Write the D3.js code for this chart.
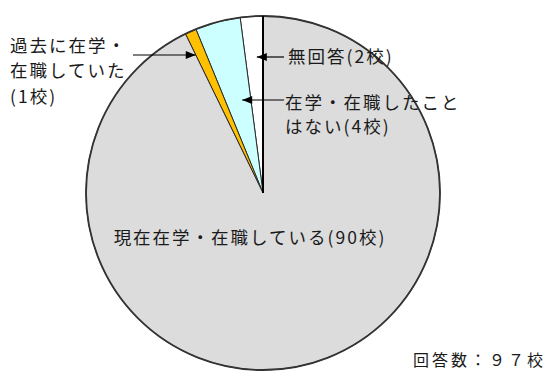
<!DOCTYPE html>
<html>
<head>
<meta charset="utf-8">
<script src="https://cdn.jsdelivr.net/npm/d3@7"></script>
<style>
  html, body { margin: 0; padding: 0; background: #ffffff; }
  svg { display: block; }
  text { font-family: "Noto Sans CJK JP", "Noto Sans CJK SC", sans-serif; fill: #1a1a1a; }
</style>
</head>
<body>
<svg id="chart" width="551" height="371"></svg>
<script>
// Survey answers (number of schools), drawn counter-clockwise from 12 o'clock
const categories = ["無回答", "在学・在職したことはない", "過去に在学・在職していた", "現在在学・在職している"];
const counts = [2, 4, 1, 90];
const sliceColors = ["#ffffff", "#ccffff", "#ffc000", "#dcdcdc"];
const labelLines = [
  ["無回答(2校)"],
  ["在学・在職したこと", "はない(4校)"],
  ["過去に在学・", "在職していた", "(1校)"],
  ["現在在学・在職している(90校)"]
];
const totalLabel = "回答数：９７校";

const svg = d3.select("#chart");
const cx = 263, cy = 193, R = 177;

const pie = d3.pie().sort(null).value(d => d).startAngle(0).endAngle(-2 * Math.PI);
const arcs = pie(counts);
const arc = d3.arc().innerRadius(0).outerRadius(R);

const g = svg.append("g").attr("transform", `translate(${cx},${cy})`);

g.selectAll("path.slice")
  .data(arcs)
  .join("path")
  .attr("class", "slice")
  .attr("d", arc)
  .attr("fill", (d, i) => sliceColors[i])
  .attr("stroke", "#2a2a2a")
  .attr("stroke-width", 1)
  .attr("stroke-linejoin", "round");

// outer rim
g.append("circle").attr("r", R).attr("fill", "none").attr("stroke", "#333").attr("stroke-width", 1.8);

// heavy radius at the starting angle
const startPt = d3.pointRadial(arcs[0].startAngle, R);
g.append("line")
  .attr("x1", 0).attr("y1", 0)
  .attr("x2", startPt[0]).attr("y2", startPt[1])
  .attr("stroke", "#000").attr("stroke-width", 2);

// callout placement for the small slices
const callouts = [
  { i: 0, y: 57, frac: 0.35, side: "right", lineTo: 284, textX: 288, lineYs: [55] },
  { i: 1, y: 100, frac: 0.35, side: "right", lineTo: 284, textX: 285, lineYs: [101, 125] },
  { i: 2, y: 55, frac: 1.0, side: "left", lineTo: 133, textX: 10, lineYs: [44, 69, 95] }
];

const fontSize = 17.5;
const spacing = 2;

callouts.forEach(c => {
  const a = arcs[c.i];
  const theta = a.startAngle + c.frac * (a.endAngle - a.startAngle);
  const tipX = cx + (cy - c.y) * Math.tan(theta);
  const dir = c.side === "right" ? 1 : -1; // direction from tip toward its text
  svg.append("line")
    .attr("x1", tipX).attr("y1", c.y)
    .attr("x2", c.lineTo).attr("y2", c.y)
    .attr("stroke", "#000").attr("stroke-width", 1.2);
  const L = 10, hw = 4;
  svg.append("path")
    .attr("d", `M${tipX},${c.y} L${tipX + dir * L},${c.y - hw} L${tipX + dir * L},${c.y + hw} Z`)
    .attr("fill", "#000");
  labelLines[c.i].forEach((t, k) => {
    svg.append("text")
      .attr("x", c.textX).attr("y", c.lineYs[k])
      .attr("dominant-baseline", "central")
      .attr("font-size", fontSize)
      .attr("letter-spacing", spacing)
      .text(t);
  });
});

// label inside the large slice
svg.append("text")
  .attr("x", 250).attr("y", 236)
  .attr("text-anchor", "middle")
  .attr("dominant-baseline", "central")
  .attr("font-size", fontSize)
  .attr("letter-spacing", spacing)
  .text(labelLines[3][0]);

svg.append("text")
  .attr("x", 546).attr("y", 359)
  .attr("text-anchor", "end")
  .attr("dominant-baseline", "central")
  .attr("font-size", 16)
  .attr("letter-spacing", 3)
  .text(totalLabel);
</script>
</body>
</html>
